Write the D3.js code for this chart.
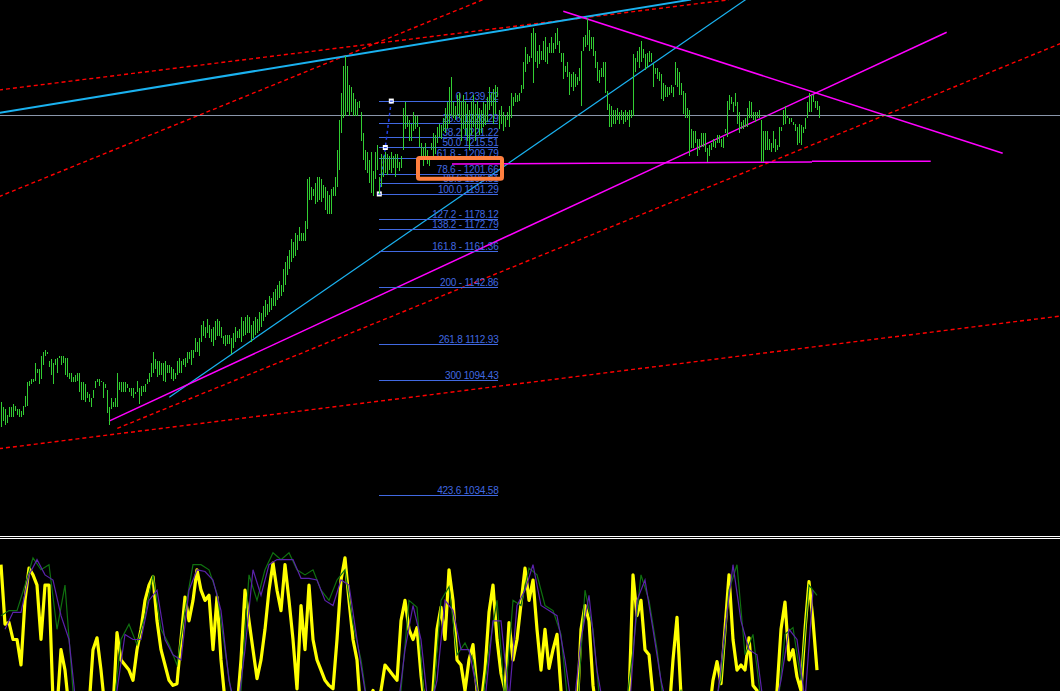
<!DOCTYPE html>
<html><head><meta charset="utf-8">
<script src="https://cdn.jsdelivr.net/npm/d3@7"></script>
<style>html,body{margin:0;padding:0;background:#000;overflow:hidden}svg{display:block}</style>
</head><body><svg id="c" width="1060" height="691"></svg>
<script>
// ---- price bars (one per time step) ----
const barHigh = [
1083,1080,1079,1076,1080,1080,1082,1081,1079,1079,
1078,1081,1086,1093,1094,1095,1095,1103,1100,1100,
1107,1109,1110,1109,1104,1105,1103,1105,1106,1107,
1107,1107,1106,1106,1098,1098,1096,1097,1098,1098,
1093,1093,1092,1088,1087,1085,1089,1094,1095,1095,
1094,1093,1092,1089,1080,1085,1083,1085,1098,1093,
1093,1093,1093,1092,1090,1090,1090,1088,1094,1090,
1091,1091,1092,1095,1098,1103,1109,1105,1104,1104,
1103,1103,1104,1102,1102,1101,1100,1098,1104,1106,
1104,1105,1106,1109,1109,1110,1110,1116,1114,1116,
1123,1125,1122,1126,1123,1121,1122,1125,1126,1125,
1122,1117,1118,1118,1118,1116,1119,1122,1120,1121,
1127,1125,1127,1128,1127,
1123,1125,1127,1126,1130,1129,1133,1136,1134,1138,
1137,1140,1142,1144,1146,1144,1152,1156,1159,1162,
1168,1166,1171,1170,1174,1171,1171,1177,
1199,1200,1195,1194,1197,1200,1200,1199,1196,1195,
1193,1191,1194,1195,1200,1214,1230,1244,1258,1263,
1258,1248,1247,1244,1241,1239,1240,1234,1223,1214,
1213,1209,1213,1203,1213,1217,1200,1212,1211,1213,
1212,1211,1213,1211,1212,1212,1208,1211,1236,1239,
1232,1230,1228,1234,1232,1232,1226,1218,1216,1218,
1214,1211,1218,1223,1222,1226,1228,1227,1231,1236,
1239,1247,1252,1239,1237,1243,1244,
1240,1243,1240,1238,1235,1240,1243,1238,1240,1236,
1235,1239,1238,1242,1247,1244,1246,1248,1247,1235,
1237,1234,1232,1234,1237,1244,1242,1244,1243,1244,
1248,1260,1268,1264,1263,1275,1278,1275,1266,1269,
1266,1271,1273,1268,1270,1273,1270,1275,1278,1271,
1265,1265,1258,1260,1255,1254,1255,1254,1252,1257,
1266,1273,1274,1283,1277,1273,1273,1266,1260,1256,
1257,1260,1260,1245,1238,1237,1235,1235,1236,1234,
1235,1234,1235,1234,1235,1235,1264,1262,1266,1268,
1271,1267,1264,1265,1266,1265,1259,1257,1257,1255,
1254,1249,1248,1247,1247,1248,1247,1260,1257,1255,
1249,1245,1244,1236,1235,1225,1224,1224,1220,1220,
1223,1223,1223,1215,1217,1218,1220,1219,1222,1222,
1220,1221,1225,1240,1243,1242,1239,1244,1239,1234,
1229,1230,1231,1236,1240,1239,1234,1234,1234,1235,
1230,1224,1224,1224,1220,1218,1224,1220,1217,1226,
1226,1235,1237,1232,1231,1231,1229,1228,1226,1228,
1227,1226,1231,1239,1244,1243,1243,1240,1240,1237
];
const barLow = [
1070,1073,1071,1072,1075,1075,1075,1078,1076,1075,
1075,1076,1080,1081,1091,1092,1093,1094,1098,1092,
1095,1102,1107,1108,1101,1097,1092,1102,1098,1106,
1102,1103,1097,1096,1095,1093,1093,1093,1094,1088,
1084,1084,1083,1085,1083,1080,1085,1090,1093,1091,
1093,1085,1090,1077,1071,1079,1080,1080,1080,1089,
1088,1088,1088,1090,1088,1086,1085,1087,1088,1082,
1086,1088,1088,1092,1093,1096,1098,1100,1096,1097,
1097,1094,1093,1098,1098,1095,1094,1095,1097,1098,
1098,1102,1101,1103,1105,1102,1106,1109,1109,1107,
1114,1117,1116,1119,1116,1114,1112,1115,1117,1117,
1116,1113,1112,1113,1113,1108,1111,1114,1116,1116,
1114,1117,1118,1119,1119,
1114,1116,1118,1119,1120,1122,1125,1127,1128,1130,
1131,1133,1133,1136,1137,1138,1140,1144,1149,1152,
1156,1158,1159,1162,1167,1167,1167,1167,
1173,1188,1188,1190,1186,1187,1188,1187,1189,1183,
1181,1181,1181,1190,1190,1195,1204,1223,1231,1232,
1234,1232,1234,1232,1232,1232,1236,1219,1209,1204,
1202,1197,1192,1190,1199,1204,1191.3,1195,1200,1202,
1201,1204,1202,1205,1200,1205,1203,1205,1214,1225,
1226,1219,1219,1224,1225,1226,1216,1211,1206,1209,
1207,1206,1214,1211,1212,1218,1221,1220,1224,1223,
1225,1228,1232,1231,1230,1232,1231,
1219,1225,1222,1219,1214,1222,1226,1219,1225,1222,
1223,1226,1227,1229,1235,1237,1228,1233,1242,1225,
1228,1224,1226,1230,1226,1231,1237,1239,1239,1240,
1244,1246,1255,1259,1260,1262,1249,1260,1257,1259,
1261,1261,1260,1259,1265,1265,1265,1267,1269,1265,
1260,1251,1255,1252,1243,1247,1245,1247,1248,1250,
1237,1266,1268,1269,1266,1267,1263,1257,1250,1249,
1252,1252,1244,1235,1226,1226,1228,1228,1230,1228,
1230,1228,1229,1230,1226,1231,1232,1255,1260,1257,
1260,1262,1256,1257,1260,1260,1247,1254,1251,1250,
1241,1240,1242,1242,1243,1244,1242,1248,1247,1243,
1243,1233,1231,1231,1211,1215,1215,1218,1211,1214,
1216,1216,1213,1208,1211,1214,1216,1215,1218,1218,
1216,1215,1223,1221,1235,1238,1234,1237,1228,1223,
1225,1225,1226,1226,1231,1231,1230,1229,1231,1231,
1208,1208,1214,1214,1214,1213,1215,1213,1214,1216,
1224,1227,1228,1231,1228,1229,1227,1224,1217,1218,
1217,1223,1225,1231,1234,1234,1239,1236,1235,1231
];

// ---- oscillator (main line sampled every 2 bars, signal lines every 4 bars) ----
const oscMain = [
89,54,55,45,45,30,68,87,83,77,
45,77,77,9,4,39,27,4,0,0,
0,0,5,39,46,27,4,2,4,49,
33,30,27,21,39,51,68,77,82,56,
39,30,21,18,19,45,70,56,68,86,
74,68,71,39,70,33,9,4,2,4,
33,74,56,39,22,33,51,74,90,74,
62,89,68,45,16,65,39,77,45,33,
27,21,18,16,45,80,93,68,45,33,
0,1,9,15,9,15,30,27,24,21,
56,68,51,45,52,24,4,1,15,51,
64,45,86,68,33,30,15,33,42,15,
6,27,61,77,45,25,15,55,33,45,
66,87,68,80,51,27,51,28,39,48,
15,1,1,1,1,51,65,56,18,1,
1,1,1,1,1,1,1,9,83,59,
68,39,36,12,1,1,1,1,33,58,
12,1,1,1,1,1,1,1,21,32,
19,51,83,45,27,30,27,46,18,15,
1,1,1,1,15,51,67,33,39,23,
15,51,79,56,27
];
const oscSignalGreen = [
59,62,62,77,93,86,89,51,77,15,
0,0,0,0,1,45,54,42,59,83,
51,42,30,62,89,89,86,72,39,6,
15,83,68,86,96,92,96,86,83,86,
74,68,80,86,54,33,1,0,0,0,
15,68,64,4,9,68,76,36,43,33,
1,39,68,9,68,65,87,83,65,62,
48,1,0,74,51,1,0,0,0,39,
83,68,39,1,4,15,1,0,0,4,
21,74,89,36,48,9,0,1,48,52,
21,77,71
];
const oscSignalPurple = [
51,61,61,83,92,83,80,59,45,1,
0,0,0,0,15,48,45,45,68,74,
45,36,33,74,86,85,80,62,21,1,
39,86,71,89,92,92,92,81,81,80,
68,65,80,77,45,15,0,0,0,0,
39,65,45,1,21,68,62,39,39,15,
9,56,56,9,65,74,89,65,62,59,
33,0,45,71,27,0,0,0,0,68,
80,51,21,0,1,9,0,0,0,9,
51,89,56,39,36,0,0,21,51,45,
9,74
];

// ---- Fibonacci retracement ----
const fibLevels = [0, 23.6, 38.2, 50.0, 61.8, 78.6, 88.6, 100.0, 127.2, 138.2, 161.8, 200, 261.8, 300, 423.6];
const fibPrices = [1239.72, 1228.29, 1221.22, 1215.51, 1209.79, 1201.66, 1196.81, 1191.29, 1178.12, 1172.79, 1161.36, 1142.86, 1112.93, 1094.43, 1034.58];
const fibLabels = ["0 1239.72", "23.6 1228.29", "38.2 1221.22", "50.0 1215.51", "61.8 - 1209.79", "78.6 - 1201.66", "88.6 1196.81", "100.0 1191.29", "127.2 - 1178.12", "138.2 - 1172.79", "161.8 -  1161.36", "200 - 1142.86", "261.8 1112.93", "300 1094.43", "423.6 1034.58"];
const fibAnchors = [[195.15, 1239.72], [189.15, 1191.29]];   // [bar, price]
const fibSpan = [189, 248.5];                                  // bars

// ---- drawn objects: [bar, price] endpoints ----
const lineCyanMain   = [[-1, 1233.5], [345, 1292.6]];
const lineCyanThin   = [[84.15, 1085.3], [373, 1293.1]];
const lineMagentaUp  = [[54, 1072.9], [472.85, 1275.6]];
const lineMagentaDn  = [[281.15, 1286.5], [500.85, 1212.5]];
const lineMagentaFl1 = [[225.5, 1206.9], [405.5, 1207.9]];
const lineMagentaFl2 = [[405.5, 1208.3], [464.85, 1208.3]];
const lineRedA = [[-1, 1245.5], [364, 1292.5]];
const lineRedB = [[-1, 1189.9], [242, 1293.0]];
const lineRedC = [[-1, 1058.5], [530, 1127.7]];
const lineRedD = [[58.15, 1069.1], [530, 1269.8]];
const bidPrice = 1232.7;
const noteBox = [[208.5, 1210.0], [250.5, 1199.2]];

// ---- layout ----
const W = 1060, H = 691, mainBottom = 535;
const svg = d3.select('#c');
svg.append('rect').attr('width', W).attr('height', H).attr('fill', '#000');

const x = d3.scaleLinear().domain([0, 409]).range([1, 819]);
const y = d3.scaleLinear().domain([1292.4, 1013.5]).range([0, mainBottom]);
const yo = d3.scaleLinear().domain([0, 100]).range([716, 546]);

const defs = svg.append('defs');
defs.append('clipPath').attr('id', 'cm').append('rect').attr('x', 0).attr('y', 0).attr('width', W).attr('height', mainBottom);
defs.append('clipPath').attr('id', 'co').append('rect').attr('x', 0).attr('y', 540).attr('width', W).attr('height', H - 540);

const main = svg.append('g').attr('clip-path', 'url(#cm)');
const seg = d3.line().x(d => x(d[0])).y(d => y(d[1]));

function drawLine(pts, color, w, dash) {
  const p = main.append('path').attr('d', seg(pts)).attr('fill', 'none')
    .attr('stroke', color).attr('stroke-width', w);
  if (dash) p.attr('stroke-dasharray', dash);
}
drawLine(lineRedA, '#ff0000', 1.4, '4,3');
drawLine(lineRedB, '#ff0000', 1.4, '4,3');
drawLine(lineRedC, '#ff0000', 1.4, '4,3');
drawLine(lineRedD, '#ff0000', 1.4, '4,3');
drawLine(lineCyanMain, '#1ab2f0', 2);
drawLine(lineCyanThin, '#1ab2f0', 1.2);
drawLine(lineMagentaUp, '#ff00ff', 1.5);
drawLine(lineMagentaDn, '#ff00ff', 1.5);
drawLine(lineMagentaFl1, '#ff00ff', 1.5);
drawLine(lineMagentaFl2, '#ff00ff', 1.5);

// bid line
main.append('line').attr('x1', 0).attr('x2', W)
  .attr('y1', Math.round(y(bidPrice)) + 0.5).attr('y2', Math.round(y(bidPrice)) + 0.5)
  .attr('stroke', '#8a96aa').attr('stroke-width', 1);

// fib levels
const fibG = main.append('g');
fibPrices.forEach((p, i) => {
  const yy = Math.round(y(p)) + 0.5;
  fibG.append('line').attr('x1', x(fibSpan[0])).attr('x2', x(fibSpan[1]))
    .attr('y1', yy).attr('y2', yy).attr('stroke', '#4169e1').attr('stroke-width', 1)
    .attr('shape-rendering', 'crispEdges');
  fibG.append('text').attr('x', x(fibSpan[1]) + 0.5).attr('y', yy - 1.5)
    .attr('text-anchor', 'end').attr('fill', '#4169e1')
    .attr('font-family', '"Liberation Sans", Arial, sans-serif').attr('font-size', 10)
    .attr('letter-spacing', '-0.2px').text(fibLabels[i]);
});
fibG.append('path').attr('d', seg(fibAnchors)).attr('fill', 'none')
  .attr('stroke', '#2040e8').attr('stroke-width', 1.5).attr('stroke-dasharray', '3,3');
const mid = [(fibAnchors[0][0] + fibAnchors[1][0]) / 2, (fibAnchors[0][1] + fibAnchors[1][1]) / 2];
[fibAnchors[0], mid, fibAnchors[1]].forEach(a => {
  const cx = x(a[0]), cy = y(a[1]);
  fibG.append('rect').attr('x', cx - 2.5).attr('y', cy - 2.5).attr('width', 5).attr('height', 5).attr('fill', '#ffffff');
  fibG.append('rect').attr('x', cx - 1.5).attr('y', cy - 0.5).attr('width', 3).attr('height', 1.2).attr('fill', '#2040e8');
});

// bars
const barG = main.append('g').attr('shape-rendering', 'crispEdges');
barG.selectAll('line').data(barHigh).join('line')
  .attr('x1', (d, i) => x(i) + 0.5).attr('x2', (d, i) => x(i) + 0.5)
  .attr('y1', d => y(d)).attr('y2', (d, i) => y(barLow[i]))
  .attr('stroke', '#32cd32').attr('stroke-width', 1);

// annotation box
svg.append('rect')
  .attr('x', x(noteBox[0][0])).attr('y', y(noteBox[0][1]))
  .attr('width', x(noteBox[1][0]) - x(noteBox[0][0]))
  .attr('height', y(noteBox[1][1]) - y(noteBox[0][1]))
  .attr('rx', 1.5).attr('fill', 'none').attr('stroke', '#ff7f3f').attr('stroke-width', 4);

// separator
[536.5, 538.5].forEach(v => svg.append('line').attr('x1', 0).attr('x2', W)
  .attr('y1', v).attr('y2', v).attr('stroke', '#ffffff').attr('stroke-width', 1));

// oscillator
const osc = svg.append('g').attr('clip-path', 'url(#co)');
const lineMain = d3.line().x((d, i) => x(i * 2)).y(d => yo(d));
const lineGreen = d3.line().x((d, i) => x(i * 4)).y(d => yo(d));
const linePurple = d3.line().x((d, i) => x(i * 4 + 2)).y(d => yo(d));
osc.append('path').attr('d', lineMain(oscMain)).attr('fill', 'none').attr('stroke', '#ffff00').attr('stroke-width', 3.2).attr('stroke-linejoin', 'round');
osc.append('path').attr('d', lineGreen(oscSignalGreen)).attr('fill', 'none').attr('stroke', '#0f700f').attr('stroke-width', 1.2);
osc.append('path').attr('d', linePurple(oscSignalPurple)).attr('fill', 'none').attr('stroke', '#5a22aa').attr('stroke-width', 1.2);
</script></body></html>
